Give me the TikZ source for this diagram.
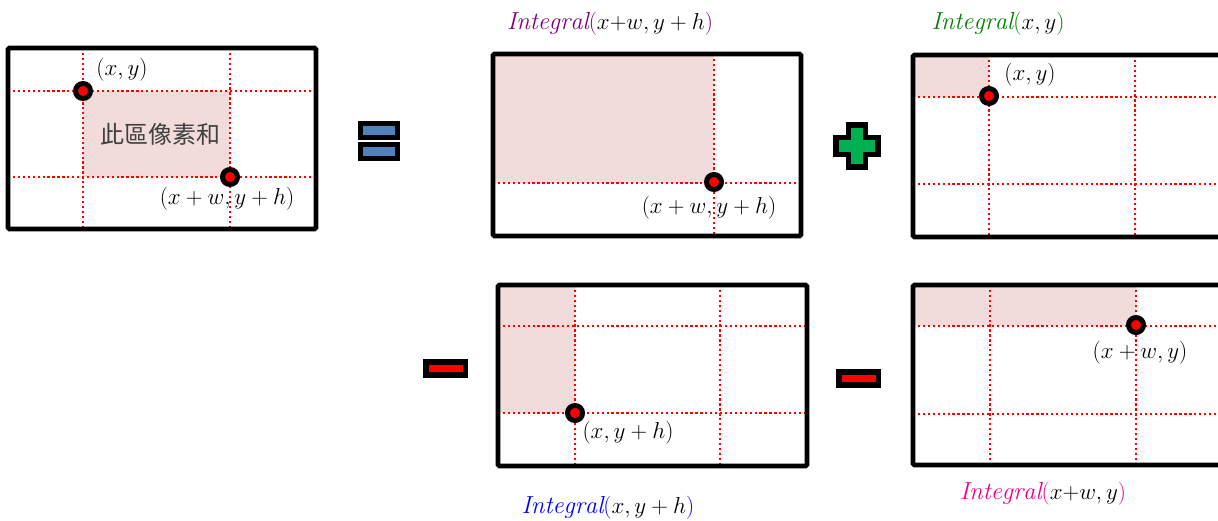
\documentclass[tikz,border=0pt]{standalone}
\usepackage{fontspec}
\newfontfamily\cjk{Noto Sans CJK TC}
\definecolor{shadecol}{RGB}{242,220,219}
\definecolor{eqblue}{RGB}{79,129,189}
\definecolor{plusgreen}{RGB}{0,176,80}
\definecolor{ttlpurple}{RGB}{128,0,128}
\definecolor{ttlgreen}{RGB}{0,128,0}
\definecolor{cjkgray}{RGB}{64,64,64}
\begin{document}
\begin{tikzpicture}[x=0.75pt, y=-0.75pt,
    frame/.style={draw=black, line width=3.4pt, rounded corners=1pt},
    gridline/.style={red, line width=1.7pt, dash pattern=on 1.7pt off 2pt},
    shade/.style={fill=shadecol},
    dot/.style={circle, draw=black, fill=red, line width=3.75pt, minimum size=11.25pt, inner sep=0pt},
    lbl/.style={font=\fontsize{18}{21}\selectfont, inner sep=0pt},
    ttl/.style={font=\fontsize{18.5}{22}\selectfont, inner sep=0pt},
    opbox/.style={draw=black, line width=3.8pt}]
    \clip (0,0) rectangle (1218,521);

    % left: the sum we want
    \fill[shade] (83,91) rectangle (230,177);
    \draw[gridline] (83,48) -- (83,229);
    \draw[gridline] (230,48) -- (230,229);
    \draw[gridline] (8,91) -- (316,91);
    \draw[gridline] (8,177) -- (316,177);
    \draw[frame] (8,48) rectangle (316,229);
    \node[dot] (a1) at (83,91) {};
    \node[dot] (a2) at (230,177) {};
    \node[lbl] (la1) at (122,70) {$(x, y)$};
    \node[lbl] (la2) at (227,199) {$(x+w, y+h)$};
    \node[lbl, text=cjkgray] (sum) at (160,134) {\cjk 此區像素和};

    % equals
    \draw[opbox, fill=eqblue] (360.5,123.5) rectangle (397.5,137.5);
    \draw[opbox, fill=eqblue] (360.5,144.5) rectangle (397.5,158.5);

    % Integral(x+w, y+h)
    \fill[shade] (493,54) rectangle (714,183);
    \draw[gridline] (714,54) -- (714,236);
    \draw[gridline] (493,183) -- (801,183);
    \draw[frame] (493,54) rectangle (801,236);
    \node[dot] (b1) at (714,182) {};
    \node[lbl] (lb1) at (709,208) {$(x+w, y+h)$};
    \node[ttl] (tb) at (610,24) {$\textcolor{ttlpurple}{\mathit{Integral}(}x{+}w, y+h\textcolor{ttlpurple}{)}$};

    % plus
    \draw[opbox, fill=plusgreen] (848.5,125) -- (865.5,125) -- (865.5,137.5) -- (878,137.5)
        -- (878,154.5) -- (865.5,154.5) -- (865.5,167) -- (848.5,167) -- (848.5,154.5)
        -- (836,154.5) -- (836,137.5) -- (848.5,137.5) -- cycle;

    % Integral(x, y)
    \fill[shade] (913,55) rectangle (989,97);
    \draw[gridline] (989,55) -- (989,237);
    \draw[gridline] (1135,55) -- (1135,237);
    \draw[gridline] (913,97) -- (1222,97);
    \draw[gridline] (913,184) -- (1222,184);
    \draw[frame] (913,55) rectangle (1222,237);
    \node[dot] (c1) at (989,96) {};
    \node[lbl] (lc1) at (1030,75) {$(x, y)$};
    \node[ttl] (tc) at (998,24) {$\textcolor{ttlgreen}{\mathit{Integral}(}x, y\textcolor{ttlgreen}{)}$};

    % minus
    \draw[opbox, fill=red] (426,362) rectangle (465.5,375);

    % Integral(x, y+h)
    \fill[shade] (498,285) rectangle (575,413);
    \draw[gridline] (575,285) -- (575,466);
    \draw[gridline] (720,285) -- (720,466);
    \draw[gridline] (498,326) -- (807,326);
    \draw[gridline] (498,413) -- (807,413);
    \draw[frame] (498,285) rectangle (807,466);
    \node[dot] (d1) at (575,413) {};
    \node[lbl] (ld1) at (628,433) {$(x, y+h)$};
    \node[ttl] (td) at (608,508) {$\textcolor{blue}{\mathit{Integral}(}x, y+h\textcolor{blue}{)}$};

    % minus
    \draw[opbox, fill=red] (839,372) rectangle (878.5,385);

    % Integral(x+w, y)
    \fill[shade] (913,285) rectangle (1136,326);
    \draw[gridline] (990,285) -- (990,465);
    \draw[gridline] (1136,285) -- (1136,465);
    \draw[gridline] (913,326) -- (1222,326);
    \draw[gridline] (913,414) -- (1222,414);
    \draw[frame] (913,285) rectangle (1222,465);
    \node[dot] (e1) at (1136,325) {};
    \node[lbl] (le1) at (1140,353) {$(x+w, y)$};
    \node[ttl] (te) at (1043,494) {$\textcolor{magenta}{\mathit{Integral}(}x{+}w, y\textcolor{magenta}{)}$};
\end{tikzpicture}
\end{document}
